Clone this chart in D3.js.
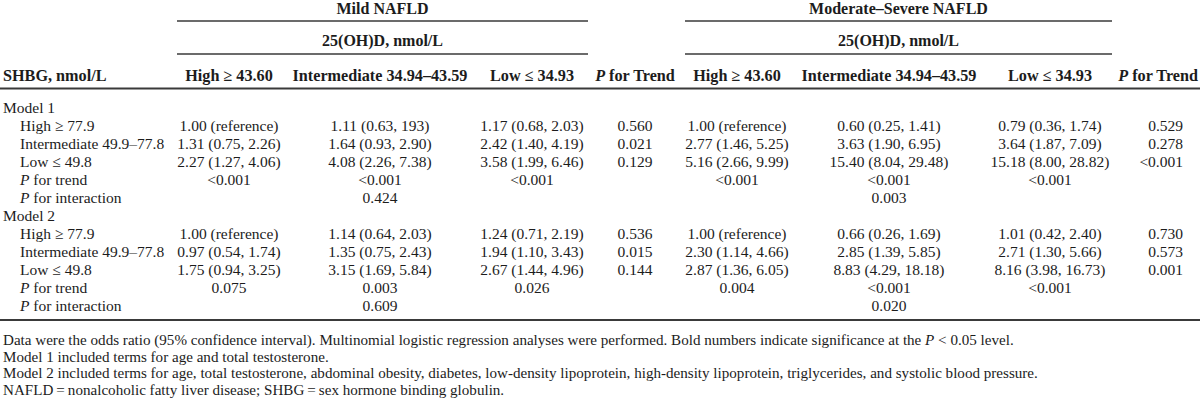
<!DOCTYPE html>
<html>
<head>
<meta charset="utf-8">
<script src="https://cdn.jsdelivr.net/npm/d3@7"></script>
<style>
  body { margin: 0; background: #fff; }
  svg { display: block; }
  text { font-family: "Liberation Serif", "Times New Roman", serif; fill: #1c1c1c; }
</style>
</head>
<body>
<svg id="tbl" width="1200" height="407"></svg>
<script>
// table content
const groups = ["Mild NAFLD", "Moderate\u2013Severe NAFLD"];
const subHeader = "25(OH)D, nmol/L";
const colHeaders = ["SHBG, nmol/L", "High \u2265 43.60", "Intermediate 34.94\u201343.59", "Low \u2264 34.93", "P for Trend",
                    "High \u2265 43.60", "Intermediate 34.94\u201343.59", "Low \u2264 34.93", "P for Trend"];

const rowLabels = ["Model 1", "High \u2265 77.9", "Intermediate 49.9\u201377.8", "Low \u2264 49.8", "P for trend", "P for interaction",
                   "Model 2", "High \u2265 77.9", "Intermediate 49.9\u201377.8", "Low \u2264 49.8", "P for trend", "P for interaction"];

const mildHigh = ["", "1.00 (reference)", "1.31 (0.75, 2.26)", "2.27 (1.27, 4.06)", "<0.001", "",
                  "", "1.00 (reference)", "0.97 (0.54, 1.74)", "1.75 (0.94, 3.25)", "0.075", ""];
const mildInt = ["", "1.11 (0.63, 193)", "1.64 (0.93, 2.90)", "4.08 (2.26, 7.38)", "<0.001", "0.424",
                 "", "1.14 (0.64, 2.03)", "1.35 (0.75, 2.43)", "3.15 (1.69, 5.84)", "0.003", "0.609"];
const mildLow = ["", "1.17 (0.68, 2.03)", "2.42 (1.40, 4.19)", "3.58 (1.99, 6.46)", "<0.001", "",
                 "", "1.24 (0.71, 2.19)", "1.94 (1.10, 3.43)", "2.67 (1.44, 4.96)", "0.026", ""];
const mildTrend = ["", "0.560", "0.021", "0.129", "", "",
                   "", "0.536", "0.015", "0.144", "", ""];
const sevHigh = ["", "1.00 (reference)", "2.77 (1.46, 5.25)", "5.16 (2.66, 9.99)", "<0.001", "",
                 "", "1.00 (reference)", "2.30 (1.14, 4.66)", "2.87 (1.36, 6.05)", "0.004", ""];
const sevInt = ["", "0.60 (0.25, 1.41)", "3.63 (1.90, 6.95)", "15.40 (8.04, 29.48)", "<0.001", "0.003",
                "", "0.66 (0.26, 1.69)", "2.85 (1.39, 5.85)", "8.83 (4.29, 18.18)", "<0.001", "0.020"];
const sevLow = ["", "0.79 (0.36, 1.74)", "3.64 (1.87, 7.09)", "15.18 (8.00, 28.82)", "<0.001", "",
                "", "1.01 (0.42, 2.40)", "2.71 (1.30, 5.66)", "8.16 (3.98, 16.73)", "<0.001", ""];
const sevTrend = ["", "0.529", "0.278", "<0.001", "", "",
                  "", "0.730", "0.573", "0.001", "", ""];

const footnotes = [
  "Data were the odds ratio (95% confidence interval). Multinomial logistic regression analyses were performed. Bold numbers indicate significance at the |P| < 0.05 level.",
  "Model 1 included terms for age and total testosterone.",
  "Model 2 included terms for age, total testosterone, abdominal obesity, diabetes, low-density lipoprotein, high-density lipoprotein, triglycerides, and systolic blood pressure.",
  "NAFLD\u2009=\u2009nonalcoholic fatty liver disease; SHBG\u2009=\u2009sex hormone binding globulin."
];

const columns = [mildHigh, mildInt, mildLow, mildTrend, sevHigh, sevInt, sevLow, sevTrend];

const svg = d3.select("#tbl");
const lineColor = "#3a3a3a";

// column positions
const colKeys = d3.range(colHeaders.length);
const x = d3.scaleOrdinal().domain(colKeys).range([3, 229, 380, 532, 635, 737, 889, 1050, 1183]);
const anchor = i => i === 0 ? "start" : (i === 8 ? "end" : "middle");
const spanX = d3.scaleOrdinal().domain([0, 1]).range([[177, 588], [685, 1112]]);

// rows
const y = d3.scalePoint().domain(d3.range(rowLabels.length)).range([113, 311]);

// italic P helper
function writeRich(sel, str) {
  const parts = str.split("|");
  parts.forEach((p, i) => {
    if (!p) return;
    sel.append("tspan").attr("font-style", i % 2 ? "italic" : null).text(p);
  });
}

// group spanners
const gHead = svg.append("g");
groups.forEach((g, i) => {
  const [a, b] = spanX(i);
  gHead.append("text").attr("x", (a + b) / 2).attr("y", 14)
    .attr("text-anchor", "middle").attr("font-weight", "bold").attr("font-size", 16).text(g);
  gHead.append("line").attr("x1", a).attr("x2", b).attr("y1", 21).attr("y2", 21)
    .attr("stroke", lineColor).attr("stroke-width", 1.5);
  gHead.append("text").attr("x", (a + b) / 2).attr("y", 46)
    .attr("text-anchor", "middle").attr("font-weight", "bold").attr("font-size", 16).text(subHeader);
  gHead.append("line").attr("x1", a).attr("x2", b).attr("y1", 54).attr("y2", 54)
    .attr("stroke", lineColor).attr("stroke-width", 1.5);
});

// column headers
colHeaders.forEach((h, i) => {
  const t = gHead.append("text").attr("x", i === 8 ? 1198 : x(i)).attr("y", 81)
    .attr("text-anchor", anchor(i)).attr("font-weight", "bold").attr("font-size", 16.2);
  writeRich(t, h.startsWith("P ") ? "|P|" + h.slice(1) : h);
});

svg.append("line").attr("x1", 0).attr("x2", 1200).attr("y1", 88.5).attr("y2", 88.5)
  .attr("stroke", lineColor).attr("stroke-width", 2);

// body
const body = svg.append("g").attr("font-size", 15.5);
rowLabels.forEach((lab, r) => {
  const indent = lab.startsWith("Model") ? 0 : 17;
  const t = body.append("text").attr("x", x(0) + indent).attr("y", y(r));
  writeRich(t, lab.startsWith("P ") ? "|P|" + lab.slice(1) : lab);
});

columns.forEach((vals, c) => {
  body.selectAll(null).data(vals.map((v, r) => ({ v, r })).filter(d => d.v))
    .join("text")
    .attr("x", x(c + 1))
    .attr("y", d => y(d.r))
    .attr("text-anchor", anchor(c + 1))
    .text(d => d.v);
});

svg.append("line").attr("x1", 0).attr("x2", 1200).attr("y1", 320).attr("y2", 320)
  .attr("stroke", lineColor).attr("stroke-width", 2);

// footnotes
const fy = d3.scalePoint().domain(d3.range(footnotes.length)).range([345, 395]);
footnotes.forEach((f, i) => {
  const t = svg.append("text").attr("x", 3).attr("y", fy(i)).attr("font-size", 15.1);
  writeRich(t, f);
});
</script>
</body>
</html>
